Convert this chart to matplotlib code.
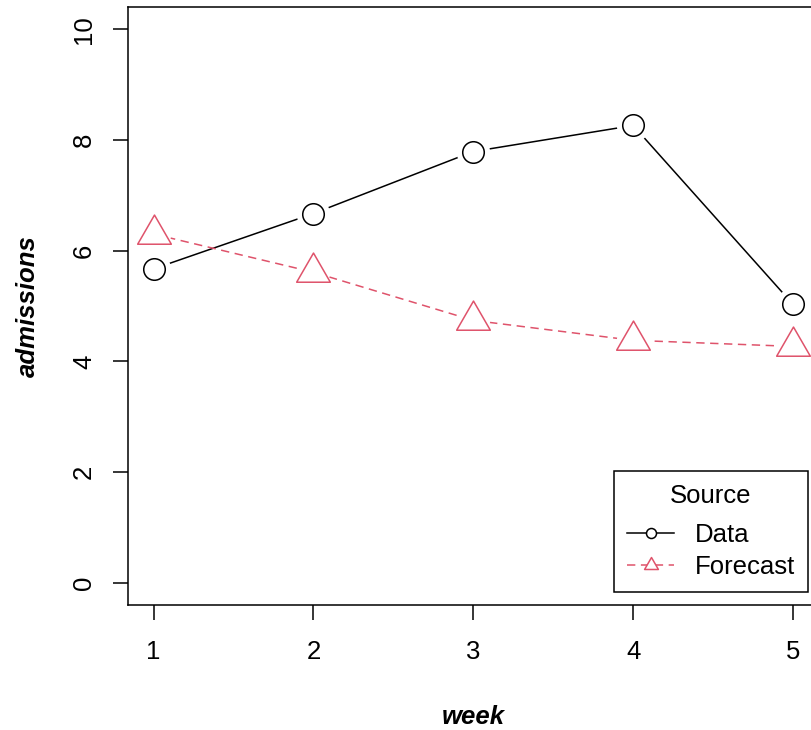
import matplotlib
matplotlib.use("Agg")
import matplotlib.pyplot as plt
from matplotlib.path import Path
from matplotlib.lines import Line2D

# values
week = [1, 2, 3, 4, 5]
data_adm = [5.67, 6.67, 7.79, 8.26, 5.03]
forecast_adm = [6.30, 5.61, 4.74, 4.38, 4.27]
x_ticks = [1, 2, 3, 4, 5]
y_ticks = [0, 2, 4, 6, 8, 10]

plt.rcParams['font.family'] = ['Liberation Sans', 'DejaVu Sans']
plt.rcParams['lines.scale_dashes'] = False

fs = 18.5
red = '#DF536B'
# R-style triangle (pch 2), centroid at the point
tri = Path([(0, 1), (0.866, -0.5), (-0.866, -0.5), (0, 1)], closed=True)

fig = plt.figure(figsize=(8.11, 7.30), dpi=100)
ax = fig.add_axes([128 / 811, 125 / 730, 690.6 / 811, 598 / 730])

# lines (type = "b": gaps around the points)
ax.plot(week, data_adm, color='black', lw=1.1, zorder=2)
ax.plot(week, forecast_adm, color=red, lw=1.1, linestyle=(0, (6, 4)), zorder=2)
ax.plot(week, data_adm, 'o', ms=24, mfc='white', mec='none', zorder=3)
ax.plot(week, forecast_adm, 'o', ms=24, mfc='white', mec='none', zorder=3)
ax.plot(week, data_adm, 'o', ms=15.5, mfc='none', mec='black', mew=1.1, zorder=4)
ax.plot(week, forecast_adm, marker=tri, ls='none', ms=28, mfc='none', mec=red, mew=1.1, zorder=4)

ax.set_xlim(0.84, 5.16)
ax.set_ylim(-0.4, 10.4)
ax.set_xticks(x_ticks)
ax.set_yticks(y_ticks)
ax.tick_params(axis='both', length=11, width=1.1, labelsize=fs)
ax.tick_params(axis='x', pad=14)
ax.tick_params(axis='y', pad=12)
for lab in ax.get_yticklabels():
    lab.set_rotation(90)
    lab.set_va('center')
for s in ax.spines.values():
    s.set_linewidth(1.1)

ax.set_xlabel('week', fontsize=fs, fontweight='bold', fontstyle='italic', va='center')
ax.xaxis.set_label_coords(0.5, -0.187)
ax.set_ylabel('admissions', fontsize=fs, fontweight='bold', fontstyle='italic', va='center')
ax.yaxis.set_label_coords(-0.145, 0.5)

handles = [
    Line2D([], [], color='black', lw=1.1, marker='o', ms=7.2, mfc='white', mec='black', mew=1.1),
    Line2D([], [], color=red, lw=1.1, linestyle=(0, (6, 4)), marker=tri, ms=11.5,
           mfc='white', mec=red, mew=1.1),
]
leg = ax.legend(handles, ['Data', 'Forecast'], title='Source', loc='lower right',
                bbox_to_anchor=(808 / 811, 138 / 730), bbox_transform=fig.transFigure,
                borderaxespad=0, fontsize=fs, title_fontsize=fs, fancybox=False,
                framealpha=1, edgecolor='black', borderpad=0.5, labelspacing=0.3,
                handlelength=1.85, handletextpad=0.8, numpoints=1)
leg.get_frame().set_linewidth(1.1)
leg._legend_box.sep = 11  # extra room under the title, as in the reference

fig.savefig('out.png', dpi=100)
